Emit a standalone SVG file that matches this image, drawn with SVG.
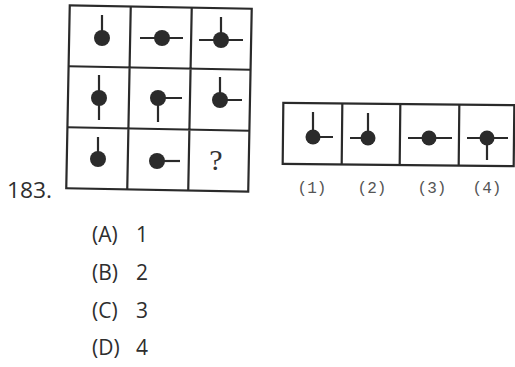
<svg xmlns="http://www.w3.org/2000/svg" width="515" height="367" viewBox="0 0 515 367">
<style>
.box{fill:none;stroke:#2a2a2a;stroke-width:2.2}
.ln{stroke:#2a2a2a;stroke-width:2.2;fill:none}
.dot{fill:#2b2b2b}
.lbl{font-family:"Liberation Mono",monospace;font-size:16px;fill:#555}
.txt{font-family:"Open Sans","Noto Sans",sans-serif;font-size:21px;fill:#2e2e2e}
</style>
<rect width="515" height="367" fill="#fff"/>
<g id="grid" transform="rotate(1.1 159 98)">
<rect class="box" x="68" y="7" width="182" height="183"/>
<path class="ln" d="M129 7V190M190 7V190M68 68H250M68 129H250"/>
</g>
<g id="cell-r1c1"><path class="ln" d="M102 38V15"/><circle class="dot" cx="102" cy="38" r="8"/></g>
<g id="cell-r1c2"><path class="ln" d="M140 38H183"/><circle class="dot" cx="162" cy="38" r="8"/></g>
<g id="cell-r1c3"><path class="ln" d="M199 40H243M221 40V17"/><circle class="dot" cx="221" cy="40" r="8"/></g>
<g id="cell-r2c1"><path class="ln" d="M99 75V120"/><circle class="dot" cx="99" cy="98" r="8"/></g>
<g id="cell-r2c2"><path class="ln" d="M158 98H182M158 98V122"/><circle class="dot" cx="158" cy="98" r="8"/></g>
<g id="cell-r2c3"><path class="ln" d="M220 100V77M220 100H242"/><circle class="dot" cx="220" cy="100" r="8"/></g>
<g id="cell-r3c1"><path class="ln" d="M98 159V137"/><circle class="dot" cx="98" cy="159" r="8"/></g>
<g id="cell-r3c2"><path class="ln" d="M157 161H180"/><circle class="dot" cx="157" cy="161" r="8"/></g>
<g id="cell-r3c3"><text x="216" y="170" font-family="Liberation Serif,serif" font-size="30" fill="#333" text-anchor="middle">?</text></g>
<g id="options" transform="rotate(0.6 398 135)">
<rect class="box" x="283" y="104" width="231" height="61"/>
<path class="ln" d="M342 104V165M400 104V165M459 104V165"/>
</g>
<g id="opt1"><path class="ln" d="M313 137V112M313 137H333"/><circle class="dot" cx="313" cy="137" r="7.5"/></g>
<g id="opt2"><path class="ln" d="M368 138V113M368 138H350"/><circle class="dot" cx="368" cy="138" r="7.5"/></g>
<g id="opt3"><path class="ln" d="M408 138H452"/><circle class="dot" cx="429" cy="138" r="7.5"/></g>
<g id="opt4"><path class="ln" d="M467 138H508M487 138V160"/><circle class="dot" cx="487" cy="138" r="7.5"/></g>
<g id="labels">
<text class="lbl" x="312" y="193" text-anchor="middle">(1)</text>
<text class="lbl" x="372" y="193" text-anchor="middle">(2)</text>
<text class="lbl" x="432" y="193" text-anchor="middle">(3)</text>
<text class="lbl" x="487" y="193" text-anchor="middle">(4)</text>
</g>
<g id="question">
<text class="txt" x="7" y="198" textLength="45" lengthAdjust="spacingAndGlyphs">183.</text>
<text class="txt" x="92" y="242">(A)<tspan x="136">1</tspan></text>
<text class="txt" x="92" y="280">(B)<tspan x="136">2</tspan></text>
<text class="txt" x="92" y="318">(C)<tspan x="136">3</tspan></text>
<text class="txt" x="92" y="355">(D)<tspan x="136">4</tspan></text>
</g>
</svg>
